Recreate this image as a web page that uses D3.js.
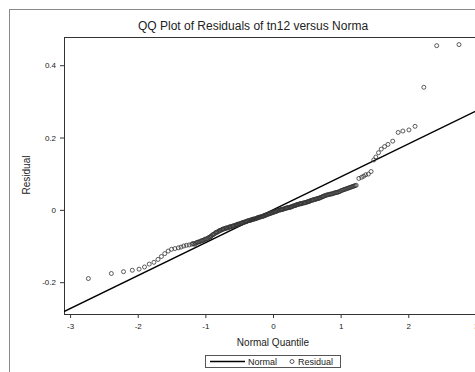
<!DOCTYPE html>
<html>
<head>
<meta charset="utf-8">
<script src="https://cdn.jsdelivr.net/npm/d3@7"></script>
<style>
  body { margin: 0; background: #fff; }
  text { font-family: Arial, "Liberation Sans", sans-serif; fill: #222; }
</style>
</head>
<body>
<svg id="chart" width="475" height="372"></svg>
<script>
// normal quantiles (x) and residuals (y)
const quantiles = [
  -2.73, -2.39, -2.21, -2.08, -1.98, -1.90, -1.83, -1.76, -1.70, -1.65,
  -1.60, -1.55, -1.50, -1.45, -1.40, -1.36, -1.32, -1.28, -1.24, -1.20,
  -1.17, -1.14, -1.11, -1.08, -1.05, -1.02, -0.99, -0.96, -0.93, -0.91,
  -0.88, -0.85, -0.83, -0.80, -0.78, -0.75, -0.73, -0.70, -0.68, -0.65,
  -0.63, -0.60, -0.58, -0.55, -0.53, -0.51, -0.48, -0.46, -0.44, -0.41,
  -0.39, -0.37, -0.34, -0.32, -0.30, -0.28, -0.25, -0.23, -0.21, -0.19,
  -0.16, -0.14, -0.12, -0.10, -0.07, -0.05, -0.03, -0.01, 0.02, 0.04,
  0.06, 0.08, 0.11, 0.13, 0.15, 0.18, 0.20, 0.22, 0.25, 0.27,
  0.29, 0.32, 0.34, 0.36, 0.39, 0.41, 0.43, 0.46, 0.48, 0.51,
  0.53, 0.55, 0.58, 0.60, 0.63, 0.65, 0.68, 0.70, 0.73, 0.75,
  0.78, 0.81, 0.84, 0.87, 0.90, 0.93, 0.96, 0.99, 1.02, 1.05,
  1.08, 1.11, 1.14, 1.17, 1.20, 1.23, 1.27, 1.31, 1.34, 1.37,
  1.41, 1.45, 1.49, 1.52, 1.56, 1.60, 1.65, 1.70, 1.77, 1.85,
  1.92, 2.01, 2.10, 2.23, 2.42, 2.75
];
const residuals = [
  -0.190, -0.176, -0.171, -0.167, -0.164, -0.158, -0.150, -0.145, -0.137, -0.129,
  -0.121, -0.114, -0.109, -0.107, -0.105, -0.103, -0.100, -0.098, -0.097, -0.095,
  -0.094, -0.092, -0.089, -0.088, -0.085, -0.083, -0.081, -0.078, -0.075, -0.072,
  -0.068, -0.064, -0.062, -0.059, -0.057, -0.054, -0.053, -0.051, -0.050, -0.048,
  -0.047, -0.045, -0.044, -0.042, -0.041, -0.039, -0.038, -0.036, -0.035, -0.033,
  -0.032, -0.030, -0.029, -0.028, -0.026, -0.025, -0.024, -0.022, -0.021, -0.020,
  -0.018, -0.017, -0.015, -0.014, -0.012, -0.010, -0.009, -0.008, -0.006, -0.004,
  -0.003, -0.001, 0.000, 0.001, 0.002, 0.004, 0.005, 0.006, 0.007, 0.008,
  0.010, 0.012, 0.013, 0.015, 0.016, 0.017, 0.018, 0.019, 0.020, 0.022,
  0.023, 0.025, 0.027, 0.028, 0.029, 0.031, 0.032, 0.034, 0.036, 0.038,
  0.040, 0.042, 0.043, 0.044, 0.046, 0.048, 0.049, 0.051, 0.054, 0.056,
  0.058, 0.060, 0.062, 0.064, 0.066, 0.068, 0.087, 0.090, 0.093, 0.097,
  0.099, 0.106, 0.138, 0.146, 0.158, 0.168, 0.175, 0.181, 0.190, 0.214,
  0.218, 0.221, 0.231, 0.339, 0.454, 0.457
];

// the crowded middle of the band, where circles overlap
const coreQuantiles = [
  -1.185, -1.155, -1.125, -1.095, -1.065, -1.035, -1.005, -0.975, -0.945, -0.92,
  -0.895, -0.865, -0.84, -0.815, -0.79, -0.765, -0.74, -0.715, -0.69, -0.665,
  -0.64, -0.615, -0.59, -0.565, -0.54, -0.52, -0.495, -0.47, -0.45, -0.425,
  -0.40, -0.38, -0.355, -0.33, -0.31, -0.29, -0.265, -0.24, -0.22, -0.20,
  -0.175, -0.15, -0.13, -0.11, -0.085, -0.06, -0.04, -0.02, 0.005, 0.03,
  0.05, 0.07, 0.095, 0.12, 0.14, 0.165, 0.19, 0.21, 0.235, 0.26,
  0.28, 0.305, 0.33, 0.35, 0.375, 0.40, 0.42, 0.445, 0.47, 0.495,
  0.52, 0.54, 0.565, 0.59, 0.615, 0.64, 0.665, 0.69, 0.715, 0.74,
  0.765, 0.795, 0.825, 0.855, 0.885, 0.915, 0.945, 0.975, 1.005, 1.035,
  1.065, 1.095, 1.125, 1.155, 1.185, 1.215
];
const coreResiduals = [
  -0.093, -0.095, -0.090, -0.089, -0.086, -0.085, -0.081, -0.080, -0.076, -0.074,
  -0.069, -0.066, -0.062, -0.061, -0.057, -0.056, -0.053, -0.052, -0.050, -0.050,
  -0.047, -0.046, -0.045, -0.043, -0.042, -0.040, -0.039, -0.037, -0.036, -0.034,
  -0.033, -0.031, -0.030, -0.028, -0.027, -0.026, -0.025, -0.023, -0.022, -0.020,
  -0.019, -0.018, -0.016, -0.015, -0.013, -0.011, -0.010, -0.008, -0.007, -0.005,
  -0.004, -0.002, -0.001, 0.001, 0.001, 0.003, 0.004, 0.006, 0.006, 0.008,
  0.009, 0.011, 0.012, 0.014, 0.015, 0.017, 0.017, 0.019, 0.020, 0.021,
  0.023, 0.024, 0.026, 0.027, 0.029, 0.030, 0.031, 0.033, 0.035, 0.037,
  0.039, 0.041, 0.042, 0.044, 0.045, 0.047, 0.048, 0.050, 0.053, 0.055,
  0.057, 0.059, 0.061, 0.063, 0.065, 0.067
];

// reference "Normal" line: residual = intercept + slope * quantile
const normalIntercept = 0.0;
const normalSlope = 0.091;

const xTicks = [-3, -2, -1, 0, 1, 2, 3];
const yTicks = [-0.2, 0, 0.2, 0.4];
const yTickLabels = ["-0.2", "0", "0.2", "0.4"];

const titleText = "QQ Plot of Residuals of tn12 versus Norma";
const xLabel = "Normal Quantile";
const yLabel = "Residual";
const legendItems = ["Normal", "Residual"];

// layout
const plot = { left: 64, top: 37, right: 482, bottom: 314 };

const svg = d3.select("#chart");

// outer frame (runs off the right and bottom edge)
svg.append("rect")
    .attr("x", 9.5).attr("y", 9.5)
    .attr("width", 480).attr("height", 380)
    .attr("fill", "#fff")
    .attr("stroke", "#8a8a8a");

let x = d3.scaleLinear()
    .domain([-3.09, 3.09])
    .range([plot.left, plot.right]);
let y = d3.scaleLinear()
    .domain([-0.288, 0.478])
    .range([plot.bottom, plot.top]);

svg.append("text")
    .attr("x", 138).attr("y", 30)
    .style("font-size", "12px")
    .text(titleText);

svg.append("defs").append("clipPath").attr("id", "plotClip")
    .append("rect")
    .attr("x", plot.left).attr("y", plot.top)
    .attr("width", plot.right - plot.left)
    .attr("height", plot.bottom - plot.top);

// axes
let xAxis = d3.axisBottom(x).tickValues(xTicks).tickSize(4).tickPadding(5)
    .tickFormat(d => d < 0 ? "-" + Math.abs(d) : "" + d);
let gx = svg.append("g")
    .attr("transform", "translate(0," + plot.bottom + ")")
    .call(xAxis);
gx.select(".domain").remove();

let yAxis = d3.axisLeft(y).tickValues(yTicks).tickSize(4).tickPadding(4)
    .tickFormat((d, i) => yTickLabels[i]);
let gy = svg.append("g")
    .attr("transform", "translate(" + plot.left + ",0)")
    .call(yAxis);
gy.select(".domain").remove();

svg.selectAll(".tick line").attr("stroke", "#333");
svg.selectAll(".tick text")
    .style("font-size", "8px")
    .style("font-family", "Arial, 'Liberation Sans', sans-serif")
    .attr("fill", "#222");

// plot border
svg.append("rect")
    .attr("x", plot.left + 0.5).attr("y", plot.top + 0.5)
    .attr("width", plot.right - plot.left)
    .attr("height", plot.bottom - plot.top)
    .attr("fill", "none")
    .attr("stroke", "#333");

let body = svg.append("g").attr("clip-path", "url(#plotClip)");

// normal line
body.append("line")
    .attr("x1", x(-3.09)).attr("y1", y(normalIntercept + normalSlope * -3.09))
    .attr("x2", x(3.09)).attr("y2", y(normalIntercept + normalSlope * 3.09))
    .attr("stroke", "#000")
    .attr("stroke-width", 1.4);

// residual circles
let points = quantiles.map((q, i) => ({ q: q, r: residuals[i] }))
    .concat(coreQuantiles.map((q, i) => ({ q: q, r: coreResiduals[i] })));
body.selectAll("circle")
    .data(points)
    .enter()
    .append("circle")
    .attr("cx", d => x(d.q))
    .attr("cy", d => y(d.r))
    .attr("r", 2)
    .attr("fill", "none")
    .attr("stroke", "#333")
    .attr("stroke-width", 0.8);

// axis titles
svg.append("text")
    .attr("x", 273).attr("y", 346)
    .attr("text-anchor", "middle")
    .style("font-size", "10px")
    .text(xLabel);

svg.append("text")
    .attr("transform", "translate(30,175) rotate(-90)")
    .attr("text-anchor", "middle")
    .style("font-size", "10px")
    .text(yLabel);

// legend
let legend = svg.append("g");
legend.append("rect")
    .attr("x", 205.5).attr("y", 355.5)
    .attr("width", 135).attr("height", 12)
    .attr("fill", "#fff")
    .attr("stroke", "#555");
legend.append("line")
    .attr("x1", 210).attr("x2", 245)
    .attr("y1", 361.5).attr("y2", 361.5)
    .attr("stroke", "#000").attr("stroke-width", 1.4);
legend.append("text")
    .attr("x", 248).attr("y", 365)
    .style("font-size", "9px")
    .text(legendItems[0]);
legend.append("circle")
    .attr("cx", 292).attr("cy", 361.5).attr("r", 2)
    .attr("fill", "none").attr("stroke", "#333").attr("stroke-width", 0.8);
legend.append("text")
    .attr("x", 298).attr("y", 365)
    .style("font-size", "9px")
    .text(legendItems[1]);
</script>
</body>
</html>
